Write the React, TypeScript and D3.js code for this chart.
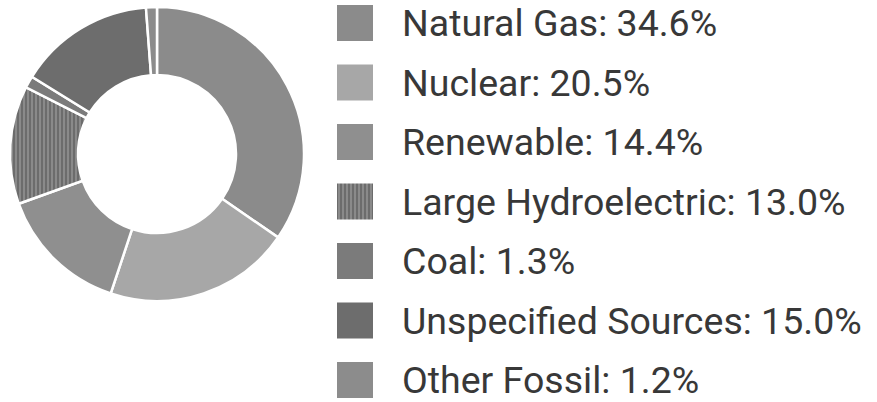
import React from 'react';
import * as d3 from 'd3';

const categories = ['Natural Gas', 'Nuclear', 'Renewable', 'Large Hydroelectric', 'Coal', 'Unspecified Sources', 'Other Fossil'];
const shares = [34.6, 20.5, 14.4, 13.0, 1.3, 15.0, 1.2];
const fills = ['#8b8b8b', '#a7a7a7', '#8f8f8f', 'url(#stripes)', '#7b7b7b', '#6d6d6d', '#8c8c8c'];

function App() {
  const width = 877;
  const height = 402;
  const cx = 157;
  const cy = 154;
  const outer = 147;
  const inner = 79;

  const pie = d3.pie<number>().value((d) => d).sort(null);
  const arc = d3.arc<d3.PieArcDatum<number>>().innerRadius(inner).outerRadius(outer);
  const slices = pie(shares);

  // legend rows
  const y = d3.scalePoint<string>().domain(categories).range([23, 380]);

  return (
    <svg width={width} height={height} style={{ position: 'absolute', left: 0, top: 0, background: '#fff' }}>
      <defs>
        <pattern id="stripes" width="4" height="4" patternUnits="userSpaceOnUse">
          <rect width="4" height="4" fill="#8a8a8a" />
          <rect width="2" height="4" fill="#6c6c6c" />
        </pattern>
      </defs>
      <g transform={`translate(${cx},${cy})`}>
        {slices.map((s, i) => (
          <path key={categories[i]} d={arc(s) || ''} fill={fills[i]} stroke="#fff" strokeWidth={2.5} />
        ))}
      </g>
      <g fontFamily="Roboto, sans-serif" fontSize={37.5} fill="#383838">
        {categories.map((c, i) => (
          <g key={c} transform={`translate(0,${y(c)})`}>
            <rect x={337} y={-18} width={36} height={36} fill={fills[i]} />
            <text x={402} y={13}>{`${c}: ${shares[i].toFixed(1)}%`}</text>
          </g>
        ))}
      </g>
    </svg>
  );
}

export default App;
